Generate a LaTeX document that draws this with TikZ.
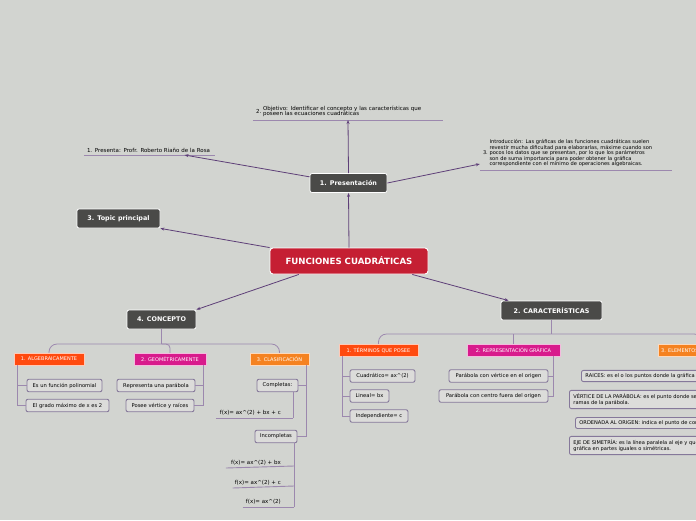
\documentclass[tikz,border=0pt]{standalone}
\usepackage{fontspec}
\setmainfont{DejaVu Sans}
\usetikzlibrary{arrows.meta, positioning, calc}
\definecolor{mapbg}{HTML}{D2D4D0}
\definecolor{topicgray}{HTML}{4A4A48}
\definecolor{rootred}{HTML}{C51F33}
\definecolor{subred}{HTML}{FF4A0F}
\definecolor{submagenta}{HTML}{D81B8C}
\definecolor{suborange}{HTML}{F58220}
\definecolor{leaffill}{HTML}{DCDCDA}
\definecolor{leafline}{HTML}{85789A}
\definecolor{arrowpurple}{HTML}{5E3F78}
\definecolor{treepurple}{HTML}{9C88AE}
\tikzset{
    rootbox/.style={rectangle, rounded corners=3pt, fill=rootred, draw=white, line width=0.9pt, text=white, font=\fontsize{8.6}{9}\selectfont\bfseries, minimum width=158pt, minimum height=26pt, inner sep=0pt},
    topicbox/.style={rectangle, rounded corners=2pt, fill=topicgray, draw=white, line width=0.8pt, text=white, font=\fontsize{6.4}{7}\selectfont\bfseries, minimum width=#1, minimum height=19pt, inner sep=0pt},
    subbox/.style={rectangle, fill=#1, draw=white!70!#1, line width=0.4pt, text=white, font=\fontsize{5}{5}\selectfont, minimum height=12pt, inner xsep=3pt, inner ysep=0pt},
    leafbox/.style={rectangle, rounded corners=2pt, fill=leaffill, draw=leafline, line width=0.9pt, font=\fontsize{5.2}{6}\selectfont, minimum width=#1, minimum height=12.5pt, inner sep=0pt},
    longleaf/.style={rectangle, rounded corners=2pt, fill=leaffill, draw=leafline, line width=0.9pt, font=\fontsize{5.1}{6.5}\selectfont, align=left, anchor=west, inner xsep=4pt, inner ysep=3pt},
    notebox/.style={text width=#1, align=left, inner xsep=3pt, inner ysep=2pt, anchor=south, font=\fontsize{5.5}{7}\selectfont},
    formula/.style={anchor=south east, inner sep=1pt, font=\fontsize{5.5}{6}\selectfont},
    maparrow/.style={-{Stealth[length=4pt,width=3pt]}, draw=arrowpurple, line width=0.8pt},
    treeline/.style={draw=treepurple, line width=0.8pt},
    noteline/.style={draw=treepurple, line width=0.9pt}
}
\begin{document}
\begin{tikzpicture}[x=1pt, y=-1pt]
    \useasboundingbox (0,0) rectangle (696,520);
    \fill[mapbg] (0,0) rectangle (696,520);
    \clip (0,0) rectangle (696,520);

    % main topics
    \node[rootbox] (root) at (349,261) {FUNCIONES CUADRÁTICAS};
    \node[topicbox=77pt] (pres) at (348.5,183) {1. Presentación};
    \node[topicbox=83pt] (topic) at (118.5,218.5) {3. Topic principal};
    \node[topicbox=69pt] (con) at (161.5,319.5) {4. CONCEPTO};
    \node[topicbox=101pt] (car) at (551.5,310.5) {2. CARACTERÍSTICAS};

    % notes of the presentation
    \node[notebox=184pt] (obj) at (348,120) {2.~\begin{tabular}[c]{@{}l@{}}Objetivo: Identificar el concepto y las características que\\[-2pt] poseen las ecuaciones cuadráticas\end{tabular}};
    \node[notebox=125pt] (prof) at (149.5,155) {1. Presenta: Profr. Roberto Riaño de la Rosa};
    \node[notebox=186pt, font=\fontsize{5.1}{6.5}\selectfont] (intro) at (576,170) {3.~\begin{tabular}[c]{@{}l@{}}Introducción: Las gráficas de las funciones cuadráticas suelen\\[-1pt] revestir mucha dificultad para elaborarlas, máxime cuando son\\[-1pt] pocos los datos que se presentan, por lo que los parámetros\\[-1pt] son de suma importancia para poder obtener la gráfica\\[-1pt] correspondiente con el mínimo de operaciones algebraicas.\end{tabular}};
    \draw[noteline] (obj.south west) -- (obj.south east);
    \draw[noteline] (prof.south west) -- (prof.south east);
    \draw[noteline] (intro.south west) -- (intro.south east);

    % arrows from the centre and the presentation
    \draw[maparrow] (root.north) -- (pres.south);
    \draw[maparrow] (root.north west) -- (topic.south east);
    \draw[maparrow] (root.195) -- (con.north east);
    \draw[maparrow] (root.348) -- (car.167);
    \draw[maparrow] (pres.north) -- (obj.south);
    \draw[maparrow] (pres.171) -- ($(prof.south)+(35,0)$);
    \draw[maparrow] (pres.east) -- ($(intro.south west)+(0,-6)$);

    % 4. CONCEPTO
    \node[subbox=subred, minimum width=70pt] (alg) at (49,359) {1. ALGEBRAICAMENTE};
    \node[subbox=submagenta, minimum width=72pt] (geo) at (170,359) {2. GEOMÉTRICAMENTE};
    \node[subbox=suborange, minimum width=59pt] (cla) at (279.5,359) {3. CLASIFICACIÓN};
    \coordinate (conbar) at (161.5,344);
    \draw[treeline] (con.south) -- (conbar);
    \draw[treeline, rounded corners=8pt] (alg.north) |- (conbar) -| (cla.north);
    \draw[treeline, rounded corners=4pt] (conbar) -| (geo.north);

    \node[leafbox=75pt] (alg1) at (64.5,385.5) {Es un función polinomial};
    \node[leafbox=83pt] (alg2) at (67.5,405.5) {El grado máximo de x es 2};
    \coordinate (algroot) at ($(alg.south west)+(4,0)$);
    \draw[treeline] (algroot) |- (alg1.west);
    \draw[treeline] (algroot) |- (alg2.west);

    \node[leafbox=78pt] (geo1) at (156,385.5) {Representa una parábola};
    \node[leafbox=68pt] (geo2) at (160,405.5) {Posee vértice y raíces};
    \coordinate (georoot) at ($(geo.south east)+(-3,0)$);
    \draw[treeline] (georoot) |- (geo1.east);
    \draw[treeline] (georoot) |- (geo2.east);

    \node[leafbox=41pt] (comp) at (277.5,385.5) {Completas:};
    \node[leafbox=42pt] (incomp) at (276,436.5) {Incompletas};
    \coordinate (claroot) at ($(cla.south east)+(-3,0)$);
    \draw[treeline] (claroot) |- (comp.east);
    \draw[treeline] (claroot) |- (incomp.east);

    \node[formula] (f1) at (282,416) {f(x)= ax\textasciicircum(2) + bx + c};
    \node[formula] (f2) at (282,466) {f(x)= ax\textasciicircum(2) + bx};
    \node[formula] (f3) at (282,486) {f(x)= ax\textasciicircum(2) + c};
    \node[formula] (f4) at (282,505) {f(x)= ax\textasciicircum(2)};
    \coordinate (compend) at ($(f1.south east)+(11,2)$);
    \draw[noteline] ($(f1.south west)+(-3,2)$) -- (compend);
    \draw[treeline] (comp.south -| compend) -- (compend);
    \coordinate (incend) at ($(f4.south east)+(12,2)$);
    \draw[treeline] (incomp.south -| incend) -- (incend);
    \draw[noteline] ($(f2.south west)+(-4,2)$) -- (f2.south east -| incend);
    \draw[noteline] ($(f3.south west)+(-1,2)$) -- (f3.south east -| incend);
    \draw[noteline] ($(f4.south west)+(-2,2)$) -- (incend);

    % 2. CARACTERISTICAS
    \node[subbox=subred, minimum width=79pt] (ter) at (378.5,350) {1. TÉRMINOS QUE POSEE};
    \node[subbox=submagenta, minimum width=93pt] (rep) at (513.5,350) {2. REPRESENTACIÓN GRÁFICA};
    \node[subbox=suborange, anchor=west] (ele) at (658,350) {3. ELEMENTOS DE LA PARÁBOLA};
    \coordinate (carbar) at (551.5,334);
    \draw[treeline] (car.south) -- (carbar);
    \draw[treeline, rounded corners=8pt] (ter.north) |- (carbar) -| (ele.north);
    \draw[treeline] (rep.north) -- (rep.north |- carbar);

    \node[leafbox=65pt] (ter1) at (382.5,376) {Cuadrático= ax\textasciicircum(2)};
    \node[leafbox=39pt] (ter2) at (369.5,396) {Lineal= bx};
    \node[leafbox=58pt] (ter3) at (379,416) {Independiente= c};
    \coordinate (terroot) at ($(ter.south west)+(4,0)$);
    \draw[treeline] (terroot) |- (ter1.west);
    \draw[treeline] (terroot) |- (ter2.west);
    \draw[treeline] (terroot) |- (ter3.west);

    \node[leafbox=99pt] (rep1) at (498.5,376) {Parábola con vértice en el origen};
    \node[leafbox=109pt] (rep2) at (493.5,396) {Parábola con centro fuera del origen};
    \coordinate (reproot) at ($(rep.south east)+(-7,0)$);
    \draw[treeline] (reproot) |- (rep1.east);
    \draw[treeline] (reproot) |- (rep2.east);

    \node[longleaf] (ele1) at (581,376) {RAICES: es el o los puntos donde la gráfica corta al eje x};
    \node[longleaf] (ele2) at (569,399.5) {VÉRTICE DE LA PARÁBOLA: es el punto donde se unen las\\ramas de la parábola.};
    \node[longleaf] (ele3) at (575,423) {ORDENADA AL ORIGEN: indica el punto de corte con el eje y};
    \node[longleaf] (ele4) at (569,445.5) {EJE DE SIMETRÍA: es la línea paralela al eje y que divide la\\gráfica en partes iguales o simétricas.};
\end{tikzpicture}
\end{document}
